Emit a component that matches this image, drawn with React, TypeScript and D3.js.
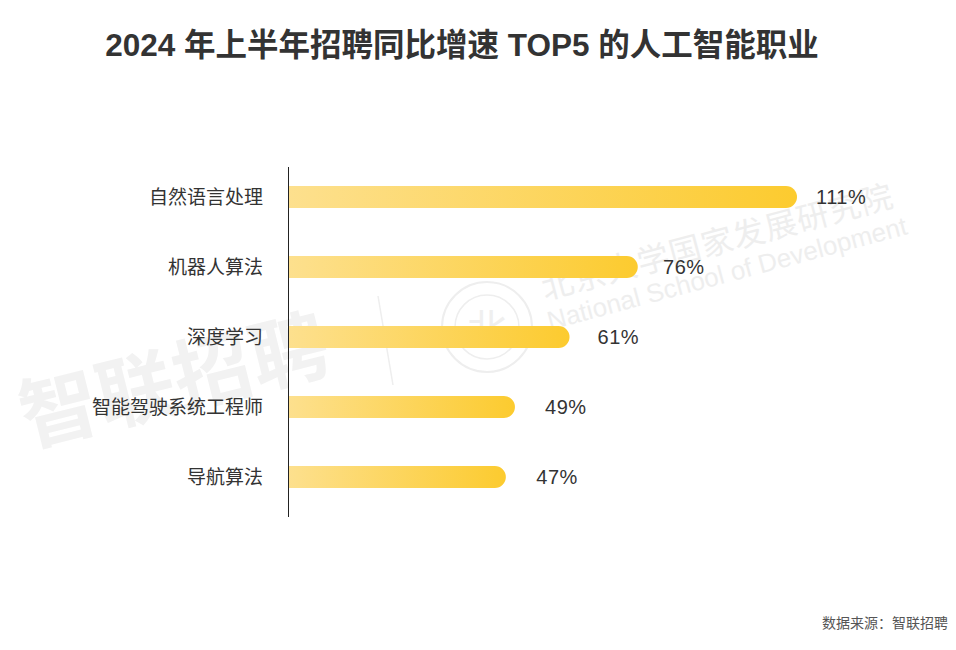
import React from "react";
import * as d3 from "d3";

const categories = ["自然语言处理", "机器人算法", "深度学习", "智能驾驶系统工程师", "导航算法"];
const values = [111, 76, 61, 49, 47];
const valueLabels = ["111%", "76%", "61%", "49%", "47%"];
const title = "2024 年上半年招聘同比增速 TOP5 的人工智能职业";
const source = "数据来源：智联招聘";

const W = 956;
const H = 650;
const FONT = "'Liberation Sans', Arial, 'Noto Sans CJK SC', sans-serif";
const CJK = "'Noto Sans CJK SC', sans-serif";

function barPath(x0: number, x1: number, y0: number, h: number) {
  const r = h / 2;
  const p = d3.path();
  p.moveTo(x0, y0);
  p.lineTo(x1 - r, y0);
  p.arc(x1 - r, y0 + r, r, -Math.PI / 2, Math.PI / 2);
  p.lineTo(x0, y0 + h);
  p.closePath();
  return p.toString();
}

export default function App() {
  const axisX = 288;
  const x = d3.scaleLinear().domain([0, 111]).range([292, 797]);
  const labelX = d3.scaleLinear().domain([0, 111]).range([331, 816]);
  const y = d3.scaleBand<string>().domain(categories).range([162, 512]).paddingInner(0.686).paddingOuter(0.343);
  const bh = y.bandwidth();

  return (
    <svg width={W} height={H} style={{ position: "absolute", left: 0, top: 0, background: "#fff" }}>
      <rect width={W} height={H} fill="#fff" />

      {/* watermarks */}
      <g>
        <text x={28} y={446} transform="rotate(-14 28 446)" fontFamily={CJK} fontWeight={700}
          fontSize={78} fill="#f2f2f2" letterSpacing={1}>智联招聘</text>
        <line x1={378} y1={296} x2={393} y2={385} stroke="#eeeeee" strokeWidth={1.5} />
        <circle cx={487} cy={327} r={45} fill="none" stroke="#eeeeee" strokeWidth={2} />
        <circle cx={487} cy={327} r={32} fill="none" stroke="#eeeeee" strokeWidth={1.5} />
        <text x={487} y={343} textAnchor="middle" fontFamily={CJK} fontSize={40} fill="#efefef">北</text>
        <text x={545} y={300} transform="rotate(-15 545 300)" fontFamily={CJK} fontSize={32} fill="#eeeeee" letterSpacing={1}>北京大学国家发展研究院</text>
        <text x={550} y={330} transform="rotate(-15 550 330)" fontFamily={FONT} fontSize={26} fill="#eeeeee">National School of Development</text>
      </g>

      <text x={462} y={56} textAnchor="middle" fontFamily={FONT} fontWeight={700} fontSize={31.5} fill="#333">{title}</text>

      {categories.map((c, i) => {
        const y0 = y(c)!;
        const x1 = x(values[i]);
        const gid = `g${i}`;
        return (
          <g key={c}>
            <defs>
              <linearGradient id={gid} gradientUnits="userSpaceOnUse" x1={axisX} x2={x1} y1={0} y2={0}>
                <stop offset="0%" stopColor="#fde08e" />
                <stop offset="100%" stopColor="#fccb2f" />
              </linearGradient>
            </defs>
            <path d={barPath(axisX, x1, y0, bh)} fill={`url(#${gid})`} />
            <text x={263} y={y0 + bh / 2} dy="0.36em" textAnchor="end" fontFamily={CJK} fontSize={19} fill="#333">{c}</text>
            <text x={labelX(values[i])} y={y0 + bh / 2} dy="0.36em" fontFamily={FONT} fontSize={20} letterSpacing={0.5} fill="#333">{valueLabels[i]}</text>
          </g>
        );
      })}

      <line x1={axisX + 0.5} x2={axisX + 0.5} y1={167} y2={517} stroke="#222" strokeWidth={1} />

      <text x={948} y={628} textAnchor="end" fontFamily={CJK} fontSize={14} fill="#555">{source}</text>
    </svg>
  );
}
